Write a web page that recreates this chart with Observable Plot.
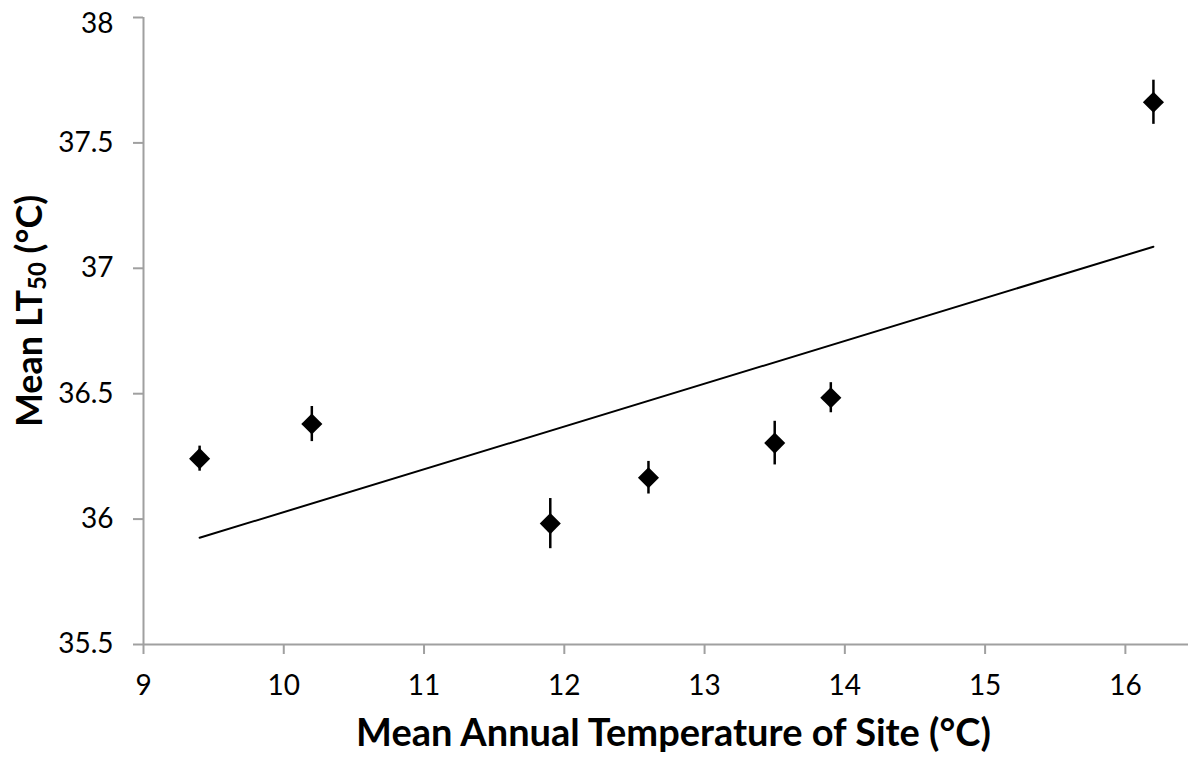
<!DOCTYPE html>
<html><head><meta charset="utf-8">
<script src="https://cdn.jsdelivr.net/npm/d3@7"></script>
<script src="https://cdn.jsdelivr.net/npm/@observablehq/plot@0.6"></script>
<style>body{margin:0;background:#fff;} svg{display:block}</style>
</head><body><div id="chart"></div>
<script>
const siteTemp = [9.4, 10.2, 11.9, 12.6, 13.5, 13.9, 16.2];
const meanLT50 = [36.241, 36.379, 35.982, 36.165, 36.303, 36.484, 37.662];
const errorLT50 = [0.05, 0.07, 0.1, 0.065, 0.087, 0.06, 0.088];
const xTicks = [9, 10, 11, 12, 13, 14, 15, 16];
const yTicks = [35.5, 36, 36.5, 37, 37.5, 38];
const xTitle = "Mean Annual Temperature of Site (°C)";
const yTitleMain = "Mean LT";
const yTitleSub = "50";
const yTitleEnd = " (°C)";

const data = siteTemp.map((x, i) => ({x, y: meanLT50[i], lo: meanLT50[i] - errorLT50[i], hi: meanLT50[i] + errorLT50[i]}));
const axisGray = "#a0a0a0";
const yTop = d3.max(yTicks);

const plot = Plot.plot({
  width: 1188,
  height: 759,
  marginLeft: 143,
  marginRight: 0,
  marginTop: 17,
  marginBottom: 115,
  style: {fontFamily: "Lato", fontSize: "28px", background: "#fff", color: "black"},
  x: {domain: [9, 16.45], axis: null},
  y: {domain: [35.5, 38], axis: null},
  marks: [
    Plot.axisX({ticks: xTicks, tickSize: 10, tickPadding: 21, stroke: axisGray, strokeWidth: 2, fill: "black", fontSize: 28, tickFormat: d => String(d), label: null}),
    Plot.axisY({ticks: yTicks, tickSize: 10, tickPadding: 20, stroke: axisGray, strokeWidth: 2, fill: "black", fontSize: 28, tickFormat: d => d === yTop ? "" : String(d), label: null}),
    Plot.axisY({ticks: [yTop], tickSize: 0, tickPadding: 30, dy: 7, fill: "black", fontSize: 28, tickFormat: d => String(d), label: null}),
    Plot.ruleX([9], {stroke: axisGray, strokeWidth: 2}),
    Plot.ruleY([35.5], {stroke: axisGray, strokeWidth: 2}),
    Plot.linearRegressionY(data, {x: "x", y: "y", ci: 0, stroke: "black", strokeWidth: 2}),
    Plot.ruleX(data, {x: "x", y1: "lo", y2: "hi", stroke: "black", strokeWidth: 2.5}),
    Plot.dot(data, {x: "x", y: "y", symbol: "diamond2", r: 9.5, fill: "black", stroke: null}),
    Plot.text([xTitle], {frameAnchor: "bottom", lineAnchor: "bottom", dx: 7.5, dy: 101, fontSize: 38, fontWeight: "bold", fill: "black"})
  ]
});

const svg = d3.select(plot);
const t = svg.append("text")
  .attr("transform", "translate(42,311) rotate(-90)")
  .attr("text-anchor", "middle")
  .attr("font-family", "Lato")
  .attr("font-weight", "bold")
  .attr("font-size", 36)
  .attr("fill", "black");
t.append("tspan").text(yTitleMain);
t.append("tspan").attr("font-size", 24).attr("dy", 4).text(yTitleSub);
t.append("tspan").attr("dy", -4).text(yTitleEnd);

document.getElementById("chart").appendChild(plot);
</script>
</body></html>
